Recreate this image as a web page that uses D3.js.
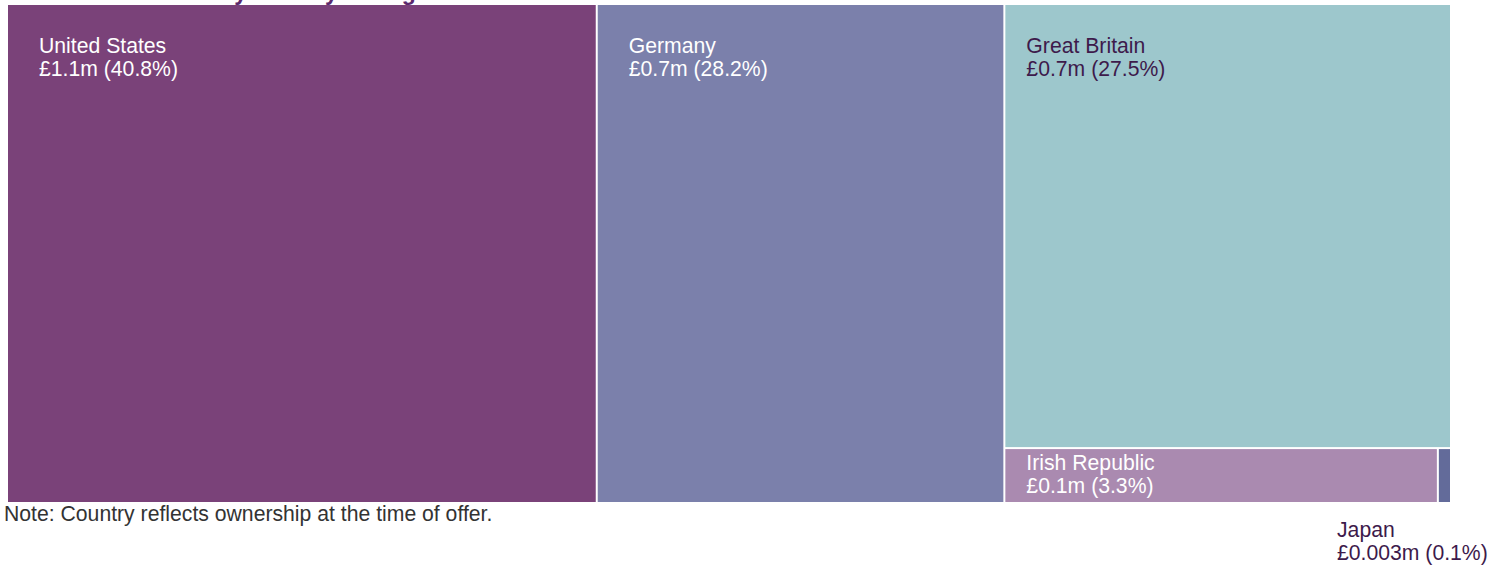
<!DOCTYPE html>
<html>
<head>
<meta charset="utf-8">
<script src="https://cdn.jsdelivr.net/npm/d3@7"></script>
<style>
  body { margin: 0; background: #fff; }
  svg { display: block; font-family: "Liberation Sans", Arial, sans-serif; }
</style>
</head>
<body>
<div id="chart"></div>
<script>
// data
const countries = ['United States', 'Germany', 'Great Britain', 'Irish Republic', 'Japan'];
const amounts = ['£1.1m', '£0.7m', '£0.7m', '£0.1m', '£0.003m'];
const shares = [40.8, 28.2, 27.5, 3.3, 0.1];
const colours = ['#7a4279', '#7b80ab', '#9dc7cc', '#aa8ab0', '#636b9a'];
const darkText = ['Great Britain', 'Japan'];

const width = 1498, height = 571;
const box = {x0: 7, y0: 4, x1: 1451, y1: 503};
const fontSize = 21.2, lineGap = 23;

const svg = d3.select('#chart').append('svg')
    .attr('width', width)
    .attr('height', height);

// title sits mostly above the view, only descenders show
svg.append('text')
    .attr('x', -3).attr('y', 0)
    .attr('font-size', 23).attr('font-weight', 'bold')
    .attr('fill', '#5b2a6e')
    .text('Total value of offers by country of origin');

const root = d3.hierarchy({children: countries.map((c, i) => ({name: c, amount: amounts[i], share: shares[i], colour: colours[i]}))})
    .sum(d => d.share || 0);

d3.treemap()
    .tile(d3.treemapSquarify)
    .size([box.x1 - box.x0, box.y1 - box.y0])
    .paddingInner(2)
    .paddingOuter(1)
    .round(false)(root);

const g = svg.append('g').attr('transform', `translate(${box.x0},${box.y0})`);

const cell = g.selectAll('g.cell')
    .data(root.leaves())
    .join('g')
    .classed('cell', true)
    .attr('transform', d => `translate(${d.x0},${d.y0})`);

cell.append('rect')
    .attr('width', d => d.x1 - d.x0)
    .attr('height', d => d.y1 - d.y0)
    .attr('fill', d => d.data.colour);

// labels: inside the box when it is wide enough, else below it
cell.each(function(d){
    const w = d.x1 - d.x0, h = d.y1 - d.y0;
    const t = d3.select(this).append('text')
        .attr('font-size', fontSize)
        .attr('fill', darkText.includes(d.data.name) ? '#3d1a4b' : '#fff');
    let x = d.x0 > width * 0.6 ? 21 : 31;
    let y = h > 100 ? 48 : 21;
    if (w < 100) { x = w - 113; y = h + 35; }
    t.append('tspan').attr('x', x).attr('y', y).text(d.data.name);
    t.append('tspan').attr('x', x).attr('y', y + lineGap)
        .text(`${d.data.amount} (${d.data.share}%)`);
});

svg.append('text')
    .attr('x', 4).attr('y', 521)
    .attr('font-size', fontSize)
    .attr('fill', '#333')
    .text('Note: Country reflects ownership at the time of offer.');
</script>
</body>
</html>
